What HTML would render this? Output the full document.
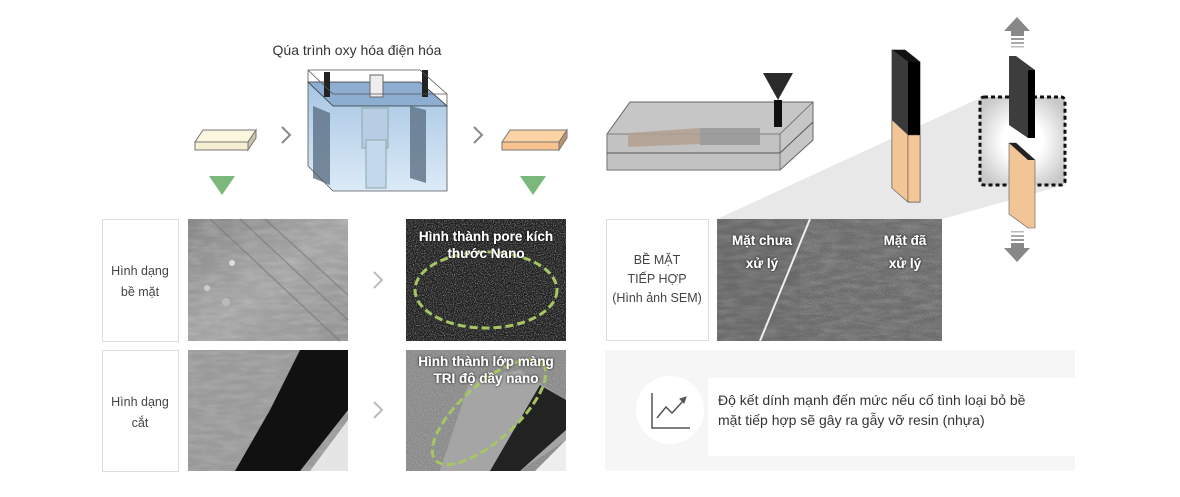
<!DOCTYPE html>
<html><head><meta charset="utf-8"><style>
html,body{margin:0;padding:0;background:#fff;width:1180px;height:497px;overflow:hidden}
svg{display:block}
text{font-family:"Liberation Sans",sans-serif}
</style></head><body>
<svg width="1180" height="497" viewBox="0 0 1180 497" xmlns="http://www.w3.org/2000/svg">
<defs>
<filter id="n1" x="0" y="0" width="100%" height="100%"><feTurbulence type="fractalNoise" baseFrequency="0.9" numOctaves="2" seed="3"/><feColorMatrix values="0 0 0 0 1  0 0 0 0 1  0 0 0 0 1  0 0 0 1.6 -0.7"/></filter>
<filter id="n2" x="0" y="0" width="100%" height="100%"><feTurbulence type="fractalNoise" baseFrequency="0.05 0.2" numOctaves="3" seed="7"/><feColorMatrix values="0 0 0 0 1  0 0 0 0 1  0 0 0 0 1  0 0 0 0.9 -0.3"/></filter>
<filter id="sh" x="-20%" y="-20%" width="140%" height="140%"><feDropShadow dx="0" dy="0" stdDeviation="1.2" flood-color="#000"/></filter>
<linearGradient id="water" x1="0" y1="0" x2="0" y2="1"><stop offset="0" stop-color="#9cbfe0"/><stop offset="1" stop-color="#d8e8f6"/></linearGradient>
<radialGradient id="box" cx="0.5" cy="0.5" r="0.6"><stop offset="0.4" stop-color="#fff"/><stop offset="1" stop-color="#c8c8c8"/></radialGradient>
<linearGradient id="p1" x1="0" y1="0" x2="1" y2="1"><stop offset="0" stop-color="#888"/><stop offset="0.5" stop-color="#a5a5a5"/><stop offset="1" stop-color="#939393"/></linearGradient>
</defs>

<!-- top left -->
<text x="357" y="55" font-size="14" fill="#333" text-anchor="middle">Qúa trình oxy hóa điện hóa</text>
<polygon points="195,142 203,130 256,130 248,142" fill="#fbf6de" stroke="#777"/>
<polygon points="195,142 248,142 248,150 195,150" fill="#f6efd2" stroke="#777"/>
<polygon points="248,142 256,130 256,138 248,150" fill="#cbc5a8" stroke="#777"/>
<polyline points="282,127 290,135 282,143" fill="none" stroke="#888" stroke-width="2"/>
<polyline points="474,127 482,135 474,143" fill="none" stroke="#888" stroke-width="2"/>
<polygon points="502,142 510,130 567,130 559,142" fill="#fcd3a5" stroke="#777"/>
<polygon points="502,142 559,142 559,150 502,150" fill="#f8c38e" stroke="#777"/>
<polygon points="559,142 567,130 567,138 559,150" fill="#b89470" stroke="#777"/>
<polygon points="209,176 235,176 222,195" fill="#7cb87c"/>
<polygon points="520,176 546,176 533,195" fill="#7cb87c"/>
<!-- tank -->
<polygon points="308,82 333,106 447,106 447,191 333,191 308,166" fill="url(#water)" opacity="0.9"/>
<polygon points="308,82 420,82 447,106 333,106" fill="#8daed0" stroke="#333" stroke-width="0.8"/>
<polygon points="313,106 330,113 330,185 313,178" fill="#5d7184" opacity="0.8"/>
<polygon points="410,106 426,110 426,183 410,178" fill="#5d7184" opacity="0.8"/>
<rect x="362" y="108" width="26" height="40" fill="#b8cde4" stroke="#8aa"/>
<rect x="366" y="140" width="20" height="48" fill="#c4d8ec" stroke="#8aa"/>
<rect x="324" y="72" width="6" height="25" fill="#222"/>
<rect x="422" y="70" width="6" height="27" fill="#222"/>
<rect x="370" y="75" width="13" height="22" fill="#eee" stroke="#666"/>
<polyline points="308,70 420,70 447,94 447,191 333,191 308,166 308,70" fill="none" stroke="#555" stroke-width="0.8"/>
<polyline points="308,70 333,94 447,94 M333,94 333,191" fill="none" stroke="#555" stroke-width="0.8"/>

<!-- mold -->
<polygon points="607,134 630,102 813,102 813,140 780,170 607,170" fill="#c6c6c6" stroke="#666"/>
<polygon points="607,134 780,134 780,170 607,170" fill="#c2c2c2" stroke="#666" stroke-width="0.8"/>
<line x1="607" y1="153" x2="780" y2="153" stroke="#555" stroke-width="1"/>
<line x1="780" y1="153" x2="813" y2="122" stroke="#555" stroke-width="1"/>
<line x1="780" y1="134" x2="813" y2="102" stroke="#666" stroke-width="0.8"/>
<polygon points="628,147 628,133 700,128 700,144" fill="#b3a090" opacity="0.85"/>
<polygon points="700,128 760,128 760,145 700,145" fill="#999" opacity="0.9"/>
<polygon points="763,73 793,73 778,100" fill="#2a2a2a"/>
<rect x="774" y="100" width="8" height="27" fill="#111"/>

<!-- gray wedge -->
<polygon points="717,219 942,219 1065,185 1065,97 982,97" fill="#e8e8e8"/>

<!-- stick -->
<polygon points="892,50 905,50 920,62 920,202 908,202 892,188" fill="#f2c597" stroke="#444" stroke-width="0.8"/>
<polygon points="892,50 905,50 920,62 908,62" fill="#111"/>
<polygon points="892,50 908,62 908,135 892,120" fill="#3a3a3a"/>
<rect x="908" y="62" width="12" height="73" fill="#000"/>
<polygon points="892,120 908,135 908,202 892,188" fill="#f2c597" stroke="#555" stroke-width="0.5"/>
<rect x="908" y="135" width="12" height="67" fill="#f4c697" stroke="#444" stroke-width="0.5"/>
<!-- tensile -->
<polygon points="1017,17 1030,31 1024,31 1024,36 1011,36 1011,31 1004,31" fill="#888"/>
<rect x="1011" y="38" width="13" height="2" fill="#999"/><rect x="1011" y="42" width="13" height="2" fill="#aaa"/><rect x="1011" y="46" width="13" height="1.5" fill="#bbb"/>
<polygon points="1017,262 1030,248 1024,248 1024,243 1011,243 1011,248 1004,248" fill="#888"/>
<rect x="1011" y="239" width="13" height="2" fill="#999"/><rect x="1011" y="235" width="13" height="2" fill="#aaa"/><rect x="1011" y="231" width="13" height="1.5" fill="#bbb"/>
<rect x="980" y="97" width="85" height="88" rx="4" fill="url(#box)" stroke="#111" stroke-width="3" stroke-dasharray="4,3"/>
<polygon points="1009,56 1016,56 1035,70 1035,138 1028,138 1009,125" fill="#3d3d3d"/>
<rect x="1028" y="70" width="7" height="68" fill="#000"/>
<polygon points="1009,143 1016,143 1035,160 1035,228 1028,228 1009,214" fill="#f2c597" stroke="#555" stroke-width="0.6"/>
<polygon points="1009,143 1016,143 1035,160 1028,160" fill="#222"/>

<!-- row labels -->
<rect x="102.5" y="219.5" width="76" height="122" fill="#fff" stroke="#ddd"/>
<text x="140" y="275" font-size="12.5" fill="#444" text-anchor="middle">Hình dạng</text>
<text x="140" y="296" font-size="12.5" fill="#444" text-anchor="middle">bề mặt</text>
<rect x="102.5" y="350.5" width="76" height="121" fill="#fff" stroke="#ddd"/>
<text x="140" y="406" font-size="12.5" fill="#444" text-anchor="middle">Hình dạng</text>
<text x="140" y="427" font-size="12.5" fill="#444" text-anchor="middle">cắt</text>
<polyline points="374,272 382,280 374,288" fill="none" stroke="#bbb" stroke-width="2"/>
<polyline points="374,402 382,410 374,418" fill="none" stroke="#bbb" stroke-width="2"/>

<!-- photo 1 -->
<rect x="188" y="219" width="160" height="122" fill="url(#p1)"/>
<rect x="188" y="219" width="160" height="122" filter="url(#n2)" opacity="0.35"/>
<g stroke="#777" stroke-width="1.5" opacity="0.6"><line x1="240" y1="219" x2="348" y2="320"/><line x1="265" y1="219" x2="348" y2="295"/><line x1="210" y1="219" x2="340" y2="341"/></g>
<circle cx="232" cy="263" r="3" fill="#ddd"/><circle cx="207" cy="288" r="3" fill="#ccc"/><circle cx="226" cy="302" r="4" fill="#bbb"/>
<!-- photo 2 -->
<rect x="188" y="350" width="160" height="121" fill="#9a9a9a"/>
<rect x="188" y="350" width="160" height="121" filter="url(#n2)" opacity="0.3"/>
<polygon points="300,350 348,350 348,410 300,471 235,471 270,410" fill="#111"/>
<polygon points="348,420 348,471 310,471" fill="#e5e5e5"/>
<!-- photo 3 -->
<rect x="406" y="219" width="160" height="122" fill="#1e1e1e"/>
<rect x="406" y="219" width="160" height="122" filter="url(#n1)" opacity="0.75"/>
<ellipse cx="486" cy="290" rx="71" ry="38" fill="none" stroke="#a6c664" stroke-width="3" stroke-dasharray="8,4"/>
<text x="486" y="241" font-size="13.5" font-weight="bold" fill="#fff" text-anchor="middle" filter="url(#sh)">Hình thành pore kích</text>
<text x="486" y="258" font-size="13.5" font-weight="bold" fill="#fff" text-anchor="middle" filter="url(#sh)">thước Nano</text>
<!-- photo 4 -->
<rect x="406" y="350" width="160" height="121" fill="#8a8a8a"/>
<rect x="406" y="350" width="160" height="121" filter="url(#n1)" opacity="0.4"/>
<polygon points="470,380 520,370 566,400 566,440 520,471 440,471" fill="#a5a5a5"/>
<polygon points="540,385 566,400 566,430 520,471 490,471" fill="#222"/>
<polygon points="566,440 566,471 535,471" fill="#eee"/>
<ellipse cx="489" cy="412" rx="72" ry="28" transform="rotate(-42 489 412)" fill="none" stroke="#a6c664" stroke-width="3" stroke-dasharray="8,4"/>
<text x="486" y="366" font-size="13.5" font-weight="bold" fill="#fff" text-anchor="middle" filter="url(#sh)">Hình thành lớp màng</text>
<text x="486" y="383" font-size="13.5" font-weight="bold" fill="#fff" text-anchor="middle" filter="url(#sh)">TRI độ dầy nano</text>

<!-- right row -->
<rect x="606.5" y="219.5" width="102" height="121" fill="#fff" stroke="#ddd"/>
<text x="657" y="264" font-size="12.5" fill="#444" text-anchor="middle">BỀ MẶT</text>
<text x="657" y="283" font-size="12.5" fill="#444" text-anchor="middle">TIẾP HỢP</text>
<text x="657" y="302" font-size="12.5" fill="#444" text-anchor="middle">(Hình ảnh SEM)</text>
<rect x="717" y="219" width="225" height="122" fill="#6a6a6a"/>
<rect x="717" y="219" width="225" height="122" filter="url(#n2)" opacity="0.3"/>
<rect x="800" y="219" width="142" height="122" filter="url(#n1)" opacity="0.25"/>
<line x1="810" y1="219" x2="760" y2="341" stroke="#eee" stroke-width="2"/>
<text x="762" y="245" font-size="13.5" font-weight="bold" fill="#fff" text-anchor="middle" filter="url(#sh)">Mặt chưa</text>
<text x="762" y="268" font-size="13.5" font-weight="bold" fill="#fff" text-anchor="middle" filter="url(#sh)">xử lý</text>
<text x="905" y="245" font-size="13.5" font-weight="bold" fill="#fff" text-anchor="middle" filter="url(#sh)">Mặt đã</text>
<text x="905" y="268" font-size="13.5" font-weight="bold" fill="#fff" text-anchor="middle" filter="url(#sh)">xử lý</text>

<!-- bottom panel -->
<rect x="605" y="350" width="470" height="121" fill="#f6f6f6"/>
<rect x="708" y="378" width="367" height="78" fill="#fff"/>
<circle cx="670" cy="410" r="34" fill="#fff"/>
<polyline points="652,393 652,428 690,428" fill="none" stroke="#555" stroke-width="1.5"/>
<polyline points="657,418 666,407 672,413 684,400" fill="none" stroke="#555" stroke-width="1.5"/>
<polygon points="680,399 686,397 684,403" fill="#555" stroke="#555"/>
<text x="718" y="405" font-size="14" fill="#333">Độ kết dính mạnh đến mức nếu cố tình loại bỏ bề</text>
<text x="718" y="425" font-size="14" fill="#333">mặt tiếp hợp sẽ gây ra gẫy vỡ resin (nhựa)</text>
</svg>
</body></html>
